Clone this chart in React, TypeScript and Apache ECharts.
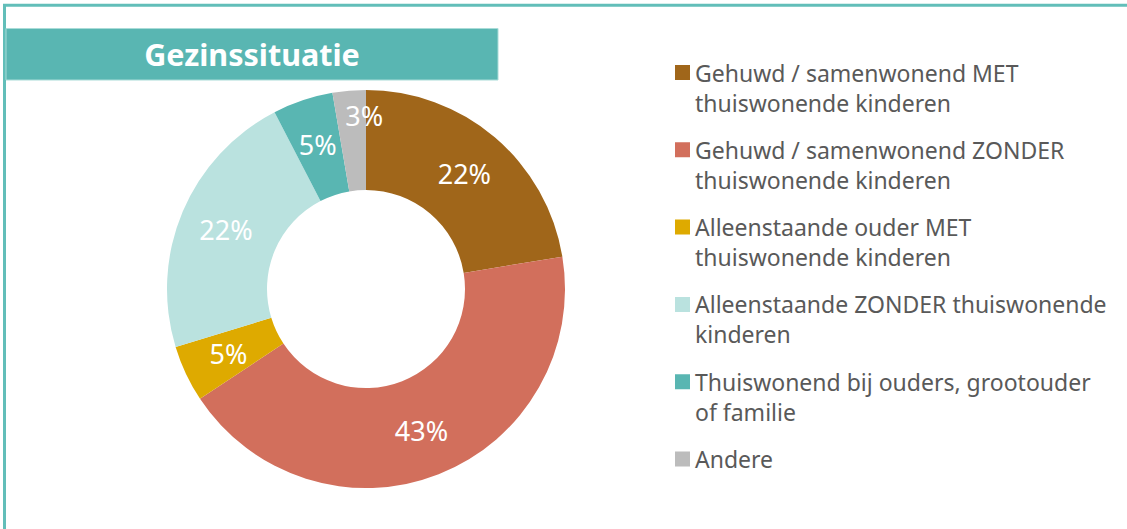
import React, { useEffect, useRef } from "react";
import * as echarts from "echarts";

const TITLE = "Gezinssituatie";
const categories = [
  "Gehuwd / samenwonend MET thuiswonende kinderen",
  "Gehuwd / samenwonend ZONDER thuiswonende kinderen",
  "Alleenstaande ouder MET thuiswonende kinderen",
  "Alleenstaande ZONDER thuiswonende kinderen",
  "Thuiswonend bij ouders, grootouder of familie",
  "Andere",
];
const legendLabels = [
  "Gehuwd / samenwonend MET\nthuiswonende kinderen",
  "Gehuwd / samenwonend ZONDER\nthuiswonende kinderen",
  "Alleenstaande ouder MET\nthuiswonende kinderen",
  "Alleenstaande ZONDER thuiswonende\nkinderen",
  "Thuiswonend bij ouders, grootouder\nof familie",
  "Andere\n ",
];
const values = [22.4, 43.3, 4.6, 22.1, 4.9, 2.7];
const colors = ["#A0661A", "#D26F5C", "#DEAA00", "#BAE2DF", "#59B6B2", "#BCBCBC"];

const FONT = "'Noto Sans', 'Open Sans', sans-serif";

export default function App() {
  const ref = useRef<HTMLDivElement>(null);
  useEffect(() => {
    if (!ref.current) return;
    const chart = echarts.init(ref.current, null, { renderer: "svg" });
    chart.setOption({
      animation: false,
      backgroundColor: "#ffffff",
      graphic: [
        {
          type: "rect",
          shape: { x: 4.5, y: 5.3, width: 1200, height: 600 },
          style: { fill: "none", stroke: "#62BEB9", lineWidth: 3 },
          silent: true,
        },
        {
          type: "rect",
          shape: { x: 6, y: 28.5, width: 492, height: 51.5 },
          style: { fill: "#59B6B2", stroke: "#A9DCD8", lineWidth: 1 },
          silent: true,
        },
        {
          type: "text",
          x: 252,
          y: 53.5,
          style: {
            text: TITLE,
            fill: "#ffffff",
            font: `bold 30.5px ${FONT}`,
            align: "center",
            verticalAlign: "middle",
          },
          silent: true,
        },
      ],
      legend: {
        orient: "vertical",
        left: 675,
        top: 57.5,
        padding: 0,
        itemWidth: 15,
        itemHeight: 60,
        itemGap: 17.3,
        icon: "path://M0,0L0.01,0L0,0.01Z M15,60L14.99,60L15,59.99Z M0,7.5L15,7.5L15,22.5L0,22.5Z",
        selectedMode: false,
        formatter: (name: string) => legendLabels[categories.indexOf(name)],
        textStyle: {
          color: "#595959",
          fontSize: 23,
          fontFamily: FONT,
          lineHeight: 30,
        },
        data: categories,
      },
      series: [
        {
          type: "pie",
          center: [366, 289],
          radius: [99, 199],
          startAngle: 90,
          clockwise: true,
          avoidLabelOverlap: false,
          silent: true,
          label: {
            show: true,
            position: "inside",
            color: "#ffffff",
            fontSize: 27,
            fontFamily: FONT,
            formatter: (p: any) => Math.round(p.value) + "%",
          },
          labelLine: { show: false },
          labelLayout: (p: any) => (p.dataIndex === 5 ? { dx: 11, dy: -22 } : {}),
          data: categories.map((name, i) => ({
            name,
            value: values[i],
            itemStyle: { color: colors[i] },
          })),
        },
      ],
    });
    return () => chart.dispose();
  }, []);
  return (
    <div
      ref={ref}
      style={{ position: "absolute", left: 0, top: 0, width: 1127, height: 529 }}
    />
  );
}
